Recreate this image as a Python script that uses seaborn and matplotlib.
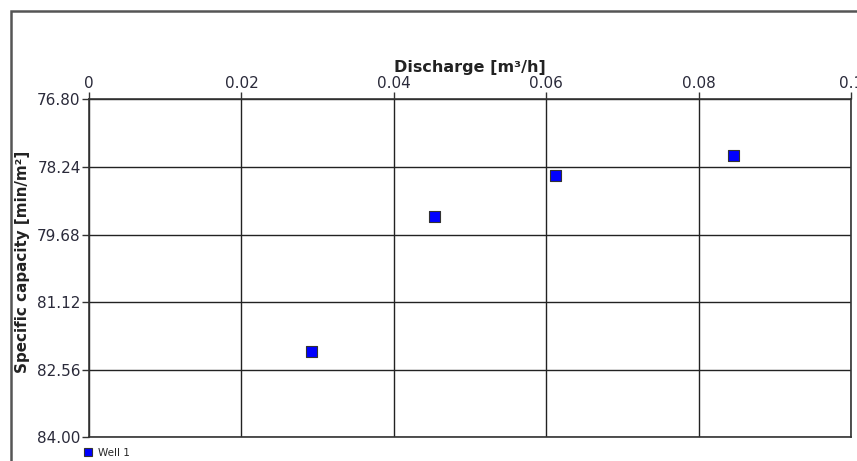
import matplotlib
matplotlib.use("Agg")
import matplotlib.pyplot as plt
from matplotlib.patches import Rectangle
import seaborn as sns
import pandas as pd
import numpy as np

# Pumping test results
discharge = [0.0292, 0.0454, 0.0612, 0.0846]
specific_capacity = [82.18, 79.29, 78.42, 78.00]
well = ["Well 1"] * 4

x_ticks = [0, 0.02, 0.04, 0.06, 0.08, 0.1]
x_tick_labels = ["0", "0.02", "0.04", "0.06", "0.08", "0.1"]
y_ticks = [76.80, 78.24, 79.68, 81.12, 82.56, 84.00]

df = pd.DataFrame({"Discharge": discharge, "Specific capacity": specific_capacity, "Well": well})

sns.set_theme(style="white")
plt.rcParams["font.family"] = ["DejaVu Sans"]

fig = plt.figure(figsize=(8.57, 4.61), dpi=100)
ax = fig.add_axes([89 / 857, 1 - 437.3 / 461, (851 - 89) / 857, (437.3 - 99.3) / 461])

sns.scatterplot(data=df, x="Discharge", y="Specific capacity", hue="Well",
                palette=["#0000ff"], marker="s", s=62, edgecolor="#333333",
                linewidth=0.8, ax=ax, legend=False, zorder=5)

ax.set_xlim(0, 0.1)
ax.set_ylim(84.0, 76.8)
ax.set_xticks(x_ticks)
ax.set_xticklabels(x_tick_labels)
ax.set_yticks(y_ticks)
ax.set_yticklabels([f"{v:.2f}" for v in y_ticks])
ax.xaxis.tick_top()
ax.xaxis.set_label_position("top")

ax.grid(True, color="#222222", linewidth=1.0)
for side in ["left", "top", "right", "bottom"]:
    ax.spines[side].set_visible(True)
    ax.spines[side].set_color("#333333")
    ax.spines[side].set_linewidth(1.2)

ax.tick_params(axis="both", which="major", length=5, width=1, color="#333333",
               labelsize=11, labelcolor="#2a2a3a", pad=1)
ax.tick_params(axis="x", top=True, bottom=False)
ax.tick_params(axis="y", left=True, right=False)

ax.set_xlabel("Discharge [m³/h]", fontsize=11.5, fontweight="bold", color="#222222", labelpad=3)
ax.set_ylabel("Specific capacity [min/m²]", fontsize=10.9, fontweight="bold", color="#222222")
ax.yaxis.set_label_coords(-0.077, 0.519)

# Legend entry below the plot
handle = plt.Line2D([], [], marker="s", linestyle="none", markersize=6,
                    markerfacecolor="#0000ff", markeredgecolor="#333333", markeredgewidth=0.8)
fig.legend([handle], ["Well 1"], loc="center left",
           bbox_to_anchor=(84 / 857, 1 - 453 / 461), frameon=False,
           fontsize=7.5, handlelength=0.8, handletextpad=0.5, borderpad=0, borderaxespad=0)

# Outer frame around the chart panel
fig.patches.append(Rectangle((11 / 857, -0.1), 1.0, 1 - 11 / 461 + 0.1,
                             transform=fig.transFigure, fill=False,
                             edgecolor="#555555", linewidth=1.8, zorder=0))

fig.savefig("out.png", dpi=100)
